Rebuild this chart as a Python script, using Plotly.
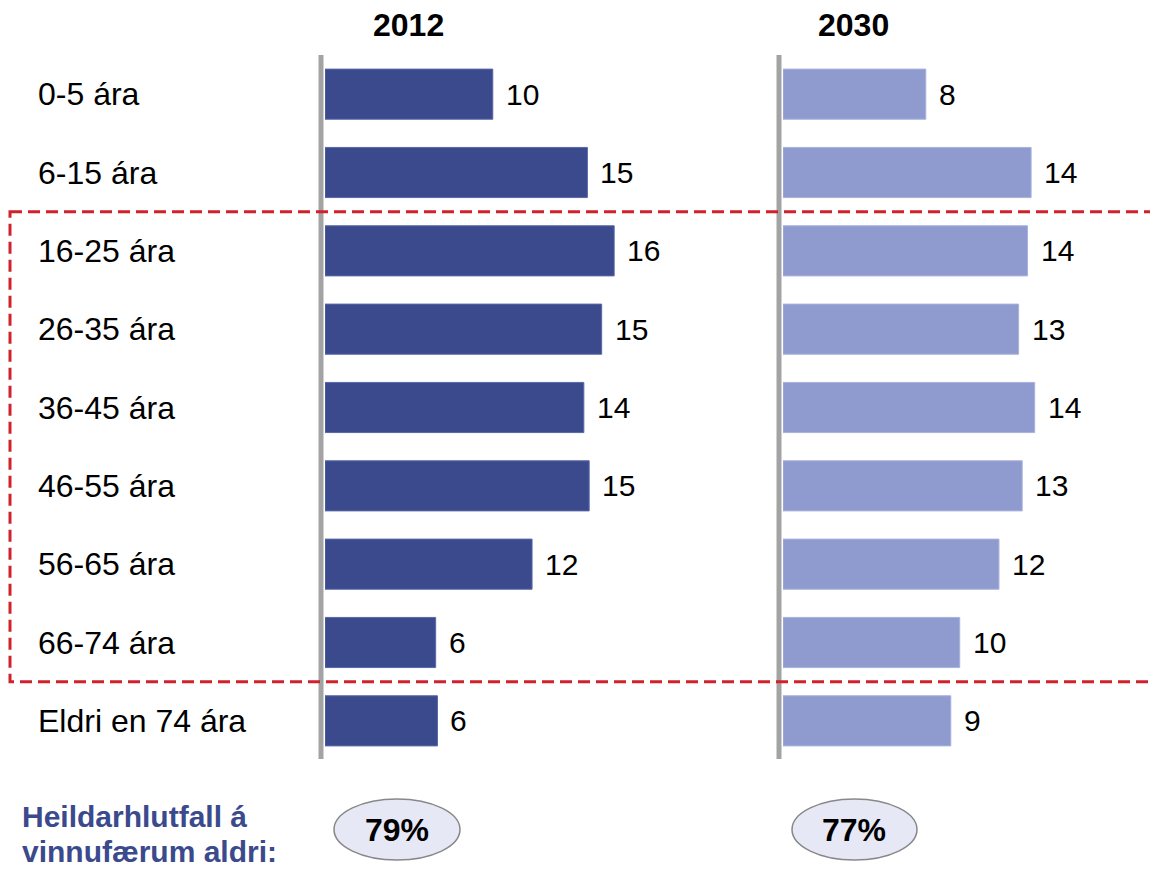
import plotly.graph_objects as go

# the page puts the plot 8px in from the top-left corner
OFF = 8
W, H = 1158 - OFF, 869 - OFF

categories = ["0-5 ára", "6-15 ára", "16-25 ára", "26-35 ára", "36-45 ára",
              "46-55 ára", "56-65 ára", "66-74 ára", "Eldri en 74 ára"]
share_2012 = [9.4, 14.7, 16.2, 15.5, 14.5, 14.8, 11.6, 6.2, 6.3]
share_2030 = [8.0, 13.9, 13.7, 13.2, 14.1, 13.4, 12.1, 9.9, 9.4]
labels_2012 = [10, 15, 16, 15, 14, 15, 12, 6, 6]
labels_2030 = [8, 14, 14, 13, 14, 13, 12, 10, 9]
years = ["2012", "2030"]
totals = ["79%", "77%"]

FONT = "Liberation Sans, Arial, sans-serif"
DARK = "#3a4a8c"
LIGHT = "#8f9bcf"


def px_x(x):
    return (x - OFF) / W


def px_y(y):
    return 1 - (y - OFF) / H


fig = go.Figure()
fig.add_trace(go.Bar(x=share_2012, y=categories, orientation="h",
                     marker=dict(color=DARK, line=dict(color="#5a68a8", width=1)),
                     width=0.64, xaxis="x", yaxis="y", hoverinfo="skip"))
fig.add_trace(go.Bar(x=share_2030, y=categories, orientation="h",
                     marker=dict(color=LIGHT, line=dict(color="#a8b2dc", width=1)),
                     width=0.64, xaxis="x2", yaxis="y", hoverinfo="skip"))

ann = []
# category labels
for c in categories:
    ann.append(dict(x=px_x(36), xref="paper", y=c, yref="y", text=c,
                    xanchor="left", yanchor="middle", showarrow=False,
                    font=dict(size=32, color="black", family=FONT)))
# value labels
for axis, vals, labs in (("x", share_2012, labels_2012), ("x2", share_2030, labels_2030)):
    for c, v, lab in zip(categories, vals, labs):
        ann.append(dict(x=v, xref=axis, y=c, yref="y", text=str(lab),
                        xanchor="left", yanchor="middle", xshift=11, showarrow=False,
                        font=dict(size=30, color="black", family=FONT)))
# panel titles
for xc, yr in zip((408, 853), years):
    ann.append(dict(x=px_x(xc), xref="paper", y=px_y(25), yref="paper", text=f"<b>{yr}</b>",
                    xanchor="center", yanchor="middle", showarrow=False, borderpad=0,
                    font=dict(size=32, color="black", family=FONT)))
# totals in ellipses
for xc, t in zip((397, 854), totals):
    ann.append(dict(x=px_x(xc), xref="paper", y=px_y(830), yref="paper", text=f"<b>{t}</b>",
                    xanchor="center", yanchor="middle", showarrow=False,
                    font=dict(size=32, color="black", family=FONT)))
# bottom caption
for yc, line in ((816, "Heildarhlutfall á"), (851, "vinnufærum aldri:")):
    ann.append(dict(x=px_x(21), xref="paper", y=px_y(yc), yref="paper", text=f"<b>{line}</b>",
                    xanchor="left", yanchor="middle", showarrow=False, borderpad=0,
                    font=dict(size=30, color=DARK, family=FONT)))

shapes = []
for xc in (321, 779):
    shapes.append(dict(type="line", xref="paper", x0=px_x(xc), x1=px_x(xc),
                       yref="paper", y0=px_y(759), y1=px_y(55),
                       line=dict(color="#a3a3a3", width=5)))
shapes.append(dict(type="rect", xref="paper", x0=px_x(10), x1=1.02,
                   yref="y", y0=1.5, y1=7.5,
                   line=dict(color="#d0222c", width=3, dash="12px,6px")))
for x0, x1 in ((334, 460), (792, 917)):
    shapes.append(dict(type="circle", xref="paper", x0=px_x(x0), x1=px_x(x1),
                       yref="paper", y0=px_y(860), y1=px_y(799),
                       fillcolor="#e6e8f5", line=dict(color="#888888", width=1.5),
                       layer="below"))

fig.update_layout(
    width=W, height=H,
    margin=dict(l=0, r=0, t=0, b=0),
    paper_bgcolor="white", plot_bgcolor="white",
    showlegend=False,
    xaxis=dict(domain=[px_x(325), px_x(325 + 357)], range=[0, 20], visible=False),
    xaxis2=dict(domain=[px_x(783), px_x(783 + 357)], range=[0, 20], visible=False),
    yaxis=dict(domain=[px_y(760), px_y(55)], range=[8.5, -0.5], type="category", visible=False),
    annotations=ann,
    shapes=shapes,
)

fig.write_html("out.html")
